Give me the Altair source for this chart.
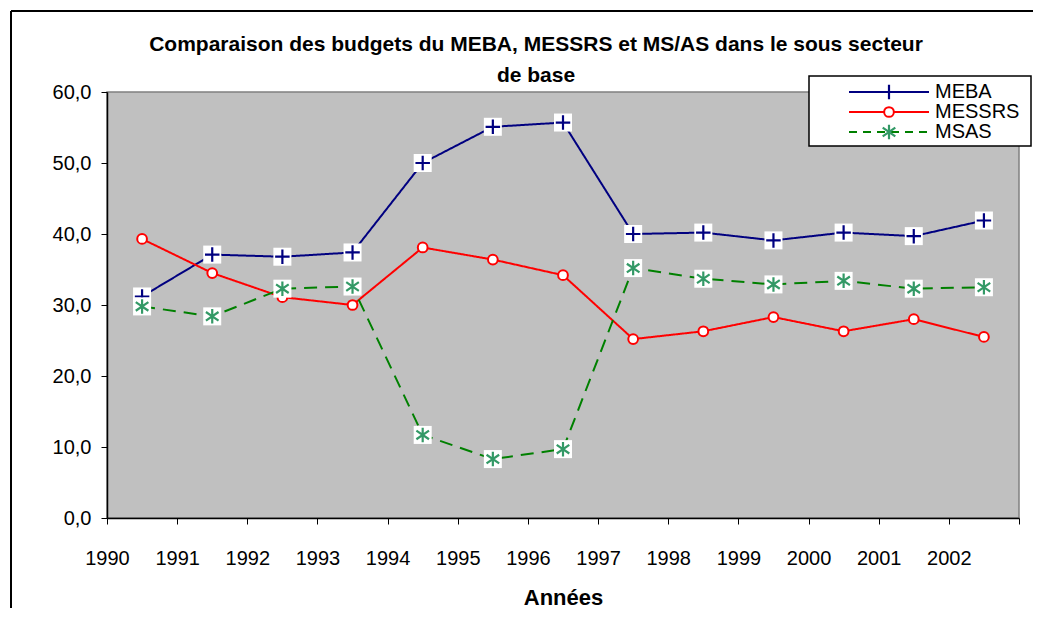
import altair as alt
import pandas as pd

# ---- data ----
years = list(range(1990, 2003))
series = ["MEBA", "MESSRS", "MSAS"]
meba = [31.2, 37.1, 36.8, 37.4, 50.0, 55.1, 55.7, 40.0, 40.2, 39.1, 40.2, 39.7, 41.9]
messrs = [39.3, 34.5, 31.1, 30.0, 38.1, 36.4, 34.2, 25.2, 26.3, 28.3, 26.3, 28.0, 25.5]
msas = [29.8, 28.4, 32.3, 32.6, 11.7, 8.3, 9.7, 35.2, 33.7, 32.9, 33.4, 32.3, 32.5]
x_ticks = list(range(1990, 2004))
y_ticks = [0, 10, 20, 30, 40, 50, 60]
title_lines = ["Comparaison des budgets du MEBA, MESSRS et MS/AS dans le sous secteur", "de base"]
x_title = "Années"

line_colors = {"MEBA": "#000080", "MESSRS": "#FF0000", "MSAS": "#008000"}
marker_colors = {"MEBA": "#000080", "MESSRS": "#FF0000", "MSAS": "#339966"}
dashes = {"MEBA": [1, 0], "MESSRS": [1, 0], "MSAS": [13, 8]}

rows = []
for name, vals in zip(series, [meba, messrs, msas]):
    for yr, v in zip(years, vals):
        rows.append({"year": yr, "series": name, "value": v})
df = pd.DataFrame(rows)

PLUS = "M-1,0H1M0,-1V1"
AST = "M0,-1V1M-0.87,-0.6L0.87,0.6M-0.87,0.6L0.87,-0.6"
FONT = "Liberation Sans"

x_enc = alt.X(
    "xpos:Q",
    scale=alt.Scale(domain=[1990, 2003], nice=False, zero=False),
    axis=alt.Axis(
        values=x_ticks,
        labelExpr="datum.value < 2003 ? '' + datum.value : ''",
        labelFlush=False,
        labelOverlap=False,
        title=x_title,
        titleFont=FONT,
        titleFontSize=22,
        titleFontWeight="bold",
        titleColor="black",
        titleY=79,
        titleBaseline="middle",
        labelPadding=24,
        tickSize=6,
        grid=False,
    ),
)
y_enc = alt.Y(
    "value:Q",
    scale=alt.Scale(domain=[0, 60], nice=False),
    axis=alt.Axis(
        values=y_ticks,
        labelExpr="replace(format(datum.value, '.1f'), '.', ',')",
        labelFlush=False,
        labelOverlap=False,
        title=None,
        tickSize=6,
        labelPadding=10,
        grid=False,
    ),
)

base = alt.Chart(df).transform_calculate(xpos="datum.year + 0.5")

layers = []
for name in series:
    sub = base.transform_filter(alt.datum.series == name)
    layers.append(
        sub.mark_line(color=line_colors[name], strokeWidth=2, strokeDash=dashes[name]).encode(x=x_enc, y=y_enc)
    )
    if name == "MESSRS":
        layers.append(
            sub.mark_point(shape="circle", filled=True, fill="white", stroke=marker_colors[name],
                           strokeWidth=2, size=95, opacity=1).encode(x=x_enc, y=y_enc)
        )
    else:
        layers.append(
            sub.mark_point(shape="square", filled=True, color="white", size=324, opacity=1).encode(x=x_enc, y=y_enc)
        )
        layers.append(
            sub.mark_point(shape=PLUS if name == "MEBA" else AST, filled=False, stroke=marker_colors[name],
                           strokeWidth=2.2, size=210, opacity=1).encode(x=x_enc, y=y_enc)
        )

one = pd.DataFrame({"k": [0]})

# outer chart frame
frame = [
    alt.Chart(one).mark_rule(color="black", strokeWidth=2).encode(
        x=alt.value(-96), y=alt.value(-81), y2=alt.value(525)),
    alt.Chart(one).mark_rule(color="black", strokeWidth=2).encode(
        x=alt.value(-96), x2=alt.value(926), y=alt.value(-81)),
]

# chart title (two centred lines)
title = [
    alt.Chart(one).mark_text(align="center", baseline="middle", font=FONT, fontSize=21,
                             fontWeight="bold", color="black").encode(
        x=alt.value(429), y=alt.value(-47 + 31 * i), text=alt.value(line))
    for i, line in enumerate(title_lines)
]

# legend box
legend = [
    alt.Chart(one).mark_rect(fill="white", stroke="black", strokeWidth=1.5).encode(
        x=alt.value(702), x2=alt.value(924), y=alt.value(-16), y2=alt.value(54))
]
for i, name in enumerate(series):
    yy = i * 20
    legend.append(
        alt.Chart(one).mark_rule(color=line_colors[name], strokeWidth=2, strokeDash=[8, 6] if name == "MSAS" else [1, 0]).encode(
            x=alt.value(742), x2=alt.value(822), y=alt.value(yy))
    )
    if name == "MESSRS":
        legend.append(
            alt.Chart(one).mark_point(shape="circle", filled=True, fill="white", stroke=marker_colors[name],
                                      strokeWidth=2, size=95, opacity=1).encode(x=alt.value(782), y=alt.value(yy))
        )
    else:
        legend.append(
            alt.Chart(one).mark_point(shape=PLUS if name == "MEBA" else AST, filled=False,
                                      stroke=marker_colors[name], strokeWidth=2.2,
                                      size=210, opacity=1).encode(x=alt.value(782), y=alt.value(yy))
        )
    legend.append(
        alt.Chart(one).mark_text(align="left", baseline="middle", font=FONT, fontSize=20, color="black").encode(
            x=alt.value(828), y=alt.value(yy), text=alt.value(name))
    )

chart = alt.layer(*frame, *title, *layers, *legend).properties(
    width=912,
    height=426,
    autosize=alt.AutoSizeParams(type="none"),
    padding={"left": 99, "top": 84, "right": 14, "bottom": 90},
    background="white",
).configure_view(
    fill="#C0C0C0", stroke="#808080", strokeWidth=1.5
).configure_axis(
    domainColor="black",
    domainWidth=1.5,
    tickColor="black",
    tickWidth=1,
    labelFont=FONT,
    labelFontSize=20,
    labelColor="black",
)

chart.save("out.html", embed_options={"renderer": "svg", "actions": False})
